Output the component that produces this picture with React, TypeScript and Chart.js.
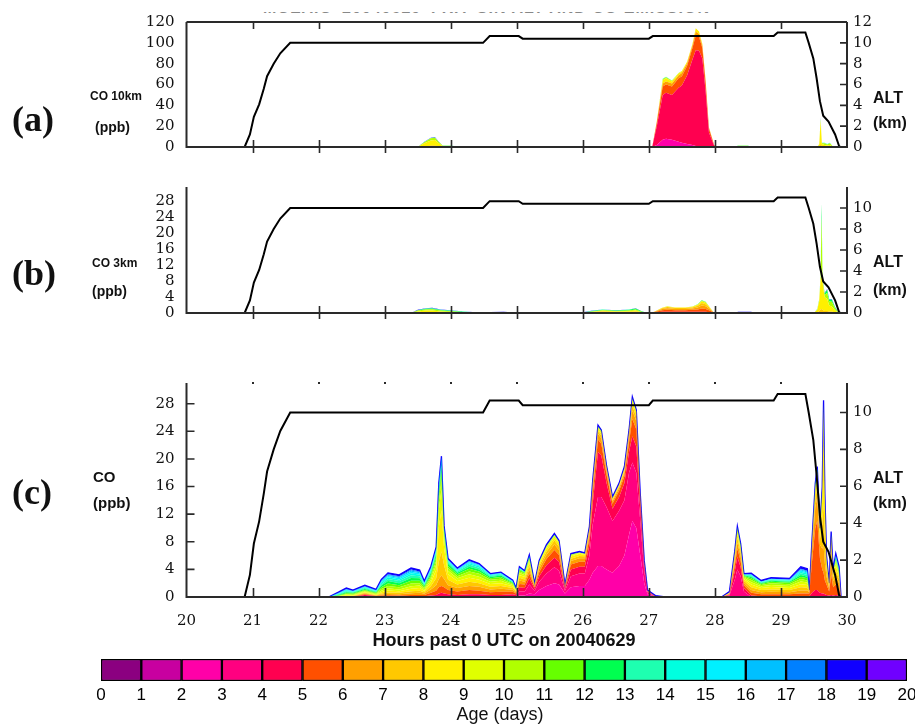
import React, { useEffect, useRef } from "react";
import { Chart, registerables } from "chart.js";

Chart.register(...registerables);

const W = 915;
const H = 724;

// ---------- Age colour scale (days) ----------
const AGE_EDGES = [0, 1, 2, 3, 4, 5, 6, 7, 8, 9, 10, 11, 12, 13, 14, 15, 16, 17, 18, 19, 20];
const AGE_COLORS = [
  "#8B0080", "#C800A0", "#FF00A8", "#FF0080", "#FF0050", "#FF5000", "#FFA000",
  "#FFC800", "#FFF000", "#E0FF00", "#B0FF00", "#66FF00", "#00FF50", "#1EFFB0",
  "#00FFE0", "#00F0FF", "#00C0FF", "#0080FF", "#1000FF", "#7000FF",
];

// ---------- Aircraft altitude (km) ----------
const ALT_T = [20.88, 20.96, 21.02, 21.1, 21.17, 21.22, 21.32, 21.42, 21.57, 24.49, 24.59, 25.03, 25.09, 27.0, 27.06, 28.89, 28.95, 29.37, 29.42, 29.49, 29.54, 29.59, 29.64, 29.72, 29.82, 29.88, 29.9];
const ALT_KM = [0, 1.2, 2.9, 4.1, 5.6, 6.8, 8.0, 9.0, 10.0, 10.0, 10.65, 10.65, 10.4, 10.4, 10.65, 10.65, 11.0, 11.0, 10.0, 8.5, 6.6, 4.4, 3.0, 2.45, 1.2, 0.1, 0];

// ---------- Panel (a): CO 10 km (ppb) by age bin ----------
const A_T = [23.5, 23.6, 23.7, 23.76, 23.82, 23.88, 24.0, 24.1, 24.2, 27.05,
  27.12, 27.21, 27.26, 27.35, 27.45, 27.5, 27.58, 27.66, 27.71, 27.76,
  27.81, 27.86, 27.91, 27.99, 28.05, 28.3, 28.35, 28.5, 28.55, 29.55,
  29.58, 29.6, 29.62, 29.66, 29.7, 29.74, 29.78, 29.82];
const A_B2 = [0, 0, 0, 0, 0, 0, 0, 0, 0, 0, 2, 7, 8, 7, 5, 4, 3, 2, 1, 0.5, 0, 0, 0, 0, 0, 0, 0, 0, 0, 0, 0, 0, 0, 0, 0, 0, 0, 0];
const A_B4 = [0, 0, 0, 0, 0, 0, 0, 0, 0, 0, 18, 43, 44, 43, 52, 55, 66, 82, 92, 92, 85, 53, 14, 1, 0, 0, 0.3, 0.2, 0, 0, 0, 0, 0, 0, 0, 0, 0, 0];
const A_B5 = [0, 0, 0.3, 0.3, 0.2, 0, 0, 0, 0, 0, 3, 8, 8, 8, 9, 9, 9, 11, 14, 13, 10, 8, 3.5, 0.5, 0, 0, 0, 0, 0, 0, 0, 0, 0, 0, 0, 0, 0, 0];
const A_B6 = [0, 0.5, 1, 1, 0.5, 0.2, 0.1, 0, 0, 0, 1, 3, 3, 3, 3, 3, 2.5, 2.5, 4, 3, 2.5, 2, 1, 0.3, 0, 0, 0, 0, 0, 0, 0.5, 2, 0.5, 0.5, 0.3, 0.5, 0.1, 0];
const A_B8 = [0, 3, 5, 5.5, 3, 0.6, 0.6, 0.2, 0, 0, 0.5, 3, 3, 2, 1.5, 1.5, 1.5, 1.5, 3, 2.5, 1.5, 1, 0.5, 0.2, 0, 0, 0.3, 0.3, 0, 0, 2, 23, 2.5, 1.5, 1.2, 1.5, 0.4, 0];
const A_B10 = [0, 1, 2, 2, 1, 0.4, 0.5, 0.1, 0, 0, 0.3, 1, 1, 0.5, 0.5, 0.5, 0, 0, 0, 0, 0, 0, 0, 0, 0, 0, 0.5, 0.6, 0, 0, 0.5, 2, 0.7, 1.5, 1, 1.5, 0.4, 0];
const A_B13 = [0, 0.3, 0.4, 0.4, 0.2, 0.2, 0.2, 0.1, 0, 0, 0, 0.5, 0.5, 0.3, 0, 0, 0, 0, 0, 0, 0, 0, 0, 0, 0, 0, 0.4, 0.4, 0, 0, 0, 0.5, 0.3, 0.5, 0.5, 0.5, 0.1, 0];
const A_B18 = [0, 0.2, 0.3, 0.3, 0.1, 0.1, 0.1, 0.1, 0, 0, 0, 0, 0, 0, 0, 0, 0, 0, 0, 0, 0, 0, 0, 0, 0, 0, 0, 0, 0, 0, 0, 0.5, 0, 0, 0, 0, 0, 0];

// ---------- Panel (b): CO 3 km (ppb) by age bin ----------
const B_T = [23.4, 23.5, 23.62, 23.72, 23.85, 24.0, 24.2, 24.4, 24.8, 25.0,
  25.3, 25.5, 25.9, 26.0, 26.15, 26.3, 26.5, 26.7, 26.8, 26.9,
  27.0, 27.08, 27.2, 27.28, 27.4, 27.55, 27.66, 27.74, 27.8, 27.86,
  27.92, 27.98, 28.05, 28.3, 28.35, 28.55, 28.6, 29.5, 29.55, 29.58,
  29.6, 29.615, 29.63, 29.66, 29.7, 29.73, 29.77, 29.82, 29.87, 29.9];
const B_B4 = [0, 0, 0, 0, 0, 0, 0, 0, 0, 0, 0, 0, 0, 0, 0.1, 0.15, 0, 0, 0, 0, 0, 0.1, 0.3, 0.3, 0.3, 0.3, 0.3, 0.3, 0.3, 0.3, 0.2, 0.05, 0, 0, 0, 0, 0, 0, 0, 0, 0, 0, 0, 0, 0, 0, 0, 0, 0, 0];
const B_B5 = [0, 0, 0, 0, 0, 0, 0, 0, 0, 0, 0, 0, 0, 0, 0.05, 0.1, 0.05, 0.05, 0.1, 0, 0, 0.1, 0.4, 0.5, 0.4, 0.4, 0.5, 0.6, 0.8, 0.7, 0.4, 0.05, 0, 0, 0, 0, 0, 0, 0, 0, 0, 0, 0, 0, 0, 0, 0, 0, 0, 0];
const B_B6 = [0, 0, 0.1, 0.1, 0, 0, 0, 0, 0, 0, 0, 0, 0, 0, 0, 0.05, 0.05, 0.1, 0.1, 0, 0, 0.05, 0.3, 0.4, 0.3, 0.3, 0.35, 0.5, 0.8, 0.7, 0.4, 0.05, 0, 0, 0, 0, 0, 0, 0, 0.1, 0.2, 0.2, 0.2, 0.1, 0.1, 0.1, 0.1, 0, 0, 0];
const B_B7 = [0, 0.1, 0.1, 0.1, 0.1, 0.05, 0, 0, 0, 0, 0, 0, 0, 0, 0.05, 0.1, 0.1, 0.1, 0.15, 0.05, 0, 0.05, 0.2, 0.3, 0.25, 0.25, 0.25, 0.4, 0.6, 0.5, 0.3, 0.05, 0, 0, 0, 0, 0, 0, 0.2, 0.4, 0.7, 0.8, 0.6, 0.4, 0.4, 0.3, 0.3, 0.1, 0, 0];
const B_B8 = [0, 0.3, 0.4, 0.45, 0.3, 0.2, 0.1, 0.05, 0.05, 0, 0, 0, 0, 0.05, 0.1, 0.15, 0.15, 0.2, 0.25, 0.1, 0, 0, 0.1, 0.15, 0.1, 0.1, 0.15, 0.25, 0.45, 0.4, 0.15, 0, 0, 0, 0.05, 0.05, 0, 0, 0.6, 2.5, 7.5, 8, 7, 3.5, 3, 1.5, 1.2, 0.5, 0.1, 0];
const B_B10 = [0, 0.2, 0.3, 0.3, 0.2, 0.2, 0.1, 0.05, 0.1, 0.05, 0.05, 0.1, 0.05, 0.05, 0.1, 0.15, 0.15, 0.2, 0.3, 0.1, 0, 0, 0, 0.05, 0.05, 0.05, 0.05, 0.1, 0.15, 0.15, 0.05, 0, 0, 0, 0.1, 0.1, 0, 0, 0.1, 0.3, 0.5, 15, 0.8, 0.6, 1.5, 1, 1.2, 0.5, 0.1, 0];
const B_B12 = [0, 0.1, 0.15, 0.15, 0.15, 0.1, 0.1, 0.05, 0.1, 0.05, 0.05, 0.05, 0, 0.05, 0.1, 0.1, 0.1, 0.15, 0.2, 0.1, 0, 0, 0, 0, 0, 0, 0, 0.05, 0.1, 0.05, 0, 0, 0, 0, 0.1, 0.1, 0, 0, 0.1, 0.2, 0.3, 3.5, 0.3, 0.3, 0.8, 0.4, 0.5, 0.3, 0.05, 0];
const B_B14 = [0, 0, 0.05, 0.1, 0.05, 0.05, 0.05, 0, 0, 0, 0.05, 0, 0, 0, 0.05, 0.05, 0.05, 0.05, 0.05, 0, 0, 0, 0, 0, 0, 0, 0, 0, 0, 0, 0, 0, 0, 0, 0, 0, 0, 0, 0, 0, 0.1, 0.3, 0, 0, 0.1, 0.1, 0.1, 0.05, 0, 0];
const B_B18 = [0, 0.1, 0.1, 0.1, 0.1, 0.1, 0.05, 0.05, 0.05, 0, 0.05, 0.05, 0.05, 0.05, 0.05, 0.05, 0.05, 0.05, 0.05, 0.05, 0, 0, 0, 0, 0, 0, 0, 0, 0, 0, 0, 0, 0, 0, 0.05, 0.05, 0, 0, 0, 0, 0.1, 0.2, 0.1, 0.1, 0.1, 0.1, 0.1, 0.05, 0.05, 0];

// ---------- Panel (c): CO (ppb) by age bin ----------
const C_T = [22.15, 22.3, 22.42, 22.52, 22.7, 22.87, 22.95, 23.05, 23.22, 23.4,
  23.53, 23.6, 23.7, 23.78, 23.82, 23.86, 23.9, 23.96, 24.1, 24.28,
  24.43, 24.6, 24.76, 24.94, 24.99, 25.04, 25.12, 25.19, 25.27, 25.34,
  25.45, 25.57, 25.64, 25.73, 25.82, 25.95, 26.03, 26.1, 26.15, 26.23,
  26.28, 26.36, 26.45, 26.55, 26.63, 26.7, 26.75, 26.81, 26.87, 26.93,
  26.98, 27.1, 27.25, 28.1, 28.22, 28.3, 28.34, 28.39, 28.44, 28.55,
  28.7, 28.85, 29.13, 29.3, 29.4, 29.43, 29.47, 29.52, 29.55, 29.59,
  29.625, 29.645, 29.665, 29.69, 29.73, 29.76, 29.79, 29.83, 29.88, 29.91];
const C_B2 = [0, 0, 0, 0, 0, 0, 0, 0, 0, 0,
  0, 0, 0, 0, 0, 0, 0, 0, 0, 0,
  0, 0, 0, 0, 0, 0.2, 0.2, 0.5, 0.4, 1,
  1.6, 2, 1.8, 0.5, 1.4, 1.6, 1.6, 2.5, 3.5, 4.5,
  4.5, 4, 3.5, 4.5, 6, 9, 11, 10, 6, 2,
  0.4, 0, 0, 0, 0, 0, 0, 0, 0, 0,
  0, 0, 0, 0, 0, 0, 0, 0, 0, 0,
  0, 0, 0, 0, 0, 0, 0, 0, 0, 0];
const C_B3 = [0, 0, 0, 0, 0, 0, 0, 0, 0, 0,
  0, 0, 0, 0, 0, 0, 0, 0, 0, 0,
  0, 0, 0, 0.1, 0.1, 0.6, 0.6, 1.3, 0.5, 1.2,
  1.8, 2.3, 2, 0.4, 1.6, 1.8, 1.8, 3.5, 7, 10,
  10, 9, 7.5, 8, 8, 9, 8.5, 8, 5, 1.8,
  0.3, 0, 0, 0, 0.2, 2.5, 4, 3, 0.8, 0,
  0, 0, 0, 0, 0, 0, 0, 0, 0, 0,
  0, 0, 0, 0, 0, 0, 0, 0, 0, 0];
const C_B4 = [0, 0, 0, 0, 0.3, 0.1, 0.1, 0.1, 0.1, 0.1,
  0.1, 0.1, 0.2, 0.3, 0.5, 0.6, 0.5, 0.4, 0.3, 0.4,
  0.4, 0.3, 0.3, 0.3, 0.2, 0.6, 0.5, 0.9, 0.3, 0.8,
  1.2, 1.4, 1.3, 0.3, 1, 1, 1, 1.5, 3, 6.5,
  6, 3.5, 1.8, 2, 2.5, 3, 3.8, 3.8, 1.8, 0.6,
  0.1, 0.05, 0, 0, 0.1, 1.2, 1.8, 1.3, 0.5, 0.2,
  0.1, 0.1, 0.1, 0.1, 0.1, 0.1, 0.6, 1, 1, 0.6,
  0.5, 0.5, 0.4, 0.3, 0.2, 0.3, 0.2, 0.3, 0.2, 0];
const C_B5 = [0, 0, 0.05, 0.05, 0.1, 0.05, 0.1, 0.15, 0.1, 0.2,
  0.2, 0.2, 0.4, 0.6, 0.9, 1, 0.9, 0.6, 0.5, 0.6,
  0.5, 0.4, 0.45, 0.35, 0.2, 0.5, 0.5, 0.7, 0.2, 0.6,
  0.9, 1.1, 1, 0.2, 0.7, 0.7, 0.7, 1, 1.4, 1.8,
  1.7, 1.2, 0.7, 0.9, 1, 1.4, 2.5, 2.5, 1, 0.3,
  0.05, 0.05, 0, 0, 0.1, 0.8, 1.2, 0.9, 0.4, 0.4,
  0.3, 0.3, 0.3, 0.4, 0.4, 0.4, 4.5, 9, 10, 5,
  3.5, 3, 2, 1.5, 0.6, 3, 1.2, 1.5, 1, 0];
const C_B6 = [0, 0, 0.05, 0.05, 0.1, 0.05, 0.15, 0.2, 0.2, 0.25,
  0.3, 0.2, 0.5, 0.8, 1.2, 1.5, 1.2, 0.7, 0.5, 0.6,
  0.6, 0.4, 0.45, 0.3, 0.15, 0.5, 0.4, 0.6, 0.15, 0.5,
  0.6, 0.8, 0.7, 0.1, 0.5, 0.5, 0.5, 0.6, 0.8, 0.8,
  0.8, 0.5, 0.35, 0.4, 0.5, 0.7, 1.2, 1.2, 0.5, 0.2,
  0.05, 0, 0, 0, 0.05, 0.6, 0.9, 0.7, 0.35, 0.4,
  0.3, 0.35, 0.3, 0.45, 0.45, 0.2, 1.5, 3, 3.5, 2,
  3, 4, 2.5, 1.2, 0.4, 2.5, 0.9, 1.2, 0.8, 0];
const C_B7 = [0, 0, 0.05, 0.05, 0.1, 0.05, 0.15, 0.2, 0.2, 0.3,
  0.3, 0.2, 0.5, 1, 2.5, 3.5, 2, 0.8, 0.5, 0.6,
  0.5, 0.4, 0.4, 0.25, 0.15, 0.4, 0.35, 0.5, 0.1, 0.4,
  0.5, 0.6, 0.5, 0.1, 0.35, 0.35, 0.3, 0.4, 0.4, 0.4,
  0.4, 0.3, 0.2, 0.2, 0.3, 0.4, 0.7, 0.6, 0.25, 0.1,
  0, 0, 0, 0, 0.05, 0.5, 0.7, 0.5, 0.3, 0.4,
  0.3, 0.35, 0.3, 0.45, 0.4, 0.1, 0.6, 1.2, 1.5, 0.8,
  3.5, 6, 3.5, 1, 0.3, 1.5, 0.6, 0.8, 0.6, 0];
const C_B8 = [0, 0.05, 0.1, 0.05, 0.1, 0.05, 0.2, 0.3, 0.25, 0.35,
  0.4, 0.2, 0.5, 1.2, 5, 6, 2.5, 0.8, 0.5, 0.6,
  0.5, 0.4, 0.4, 0.25, 0.1, 0.4, 0.35, 0.5, 0.1, 0.3,
  0.4, 0.4, 0.4, 0.05, 0.3, 0.3, 0.2, 0.3, 0.3, 0.3,
  0.3, 0.2, 0.15, 0.15, 0.2, 0.3, 0.6, 0.5, 0.2, 0.1,
  0, 0, 0, 0, 0.05, 0.4, 0.6, 0.4, 0.25, 0.4,
  0.3, 0.35, 0.3, 0.45, 0.4, 0.1, 0.4, 0.8, 1, 0.6,
  3.5, 11, 4.5, 0.8, 0.2, 1, 0.4, 0.7, 0.4, 0];
const C_B9 = [0, 0.05, 0.1, 0.1, 0.1, 0.1, 0.2, 0.3, 0.25, 0.35,
  0.35, 0.2, 0.4, 0.8, 2.5, 3, 1.2, 0.5, 0.4, 0.5,
  0.45, 0.3, 0.35, 0.2, 0.1, 0.3, 0.25, 0.3, 0.05, 0.15,
  0.2, 0.2, 0.2, 0.05, 0.15, 0.1, 0.1, 0.1, 0.15, 0.2,
  0.2, 0.1, 0.1, 0.1, 0.1, 0.1, 0.3, 0.2, 0.05, 0.05,
  0, 0, 0, 0, 0.05, 0.2, 0.4, 0.3, 0.2, 0.35,
  0.25, 0.3, 0.3, 0.4, 0.35, 0.05, 0.2, 0.5, 0.6, 0.3,
  1, 2.5, 1, 0.4, 0.1, 0.4, 0.2, 0.4, 0.3, 0];
const C_B10 = [0, 0.05, 0.1, 0.1, 0.1, 0.1, 0.25, 0.35, 0.3, 0.4,
  0.35, 0.2, 0.35, 0.6, 1.2, 1.5, 0.6, 0.4, 0.3, 0.4,
  0.4, 0.3, 0.3, 0.15, 0.05, 0.2, 0.2, 0.2, 0.05, 0.1,
  0.1, 0.1, 0.1, 0, 0.1, 0.05, 0.05, 0.05, 0.1, 0.1,
  0.1, 0.05, 0.05, 0.05, 0.1, 0.1, 0.1, 0.1, 0, 0,
  0, 0, 0, 0, 0, 0.1, 0.2, 0.2, 0.15, 0.3,
  0.2, 0.25, 0.25, 0.35, 0.3, 0.05, 0.1, 0.3, 0.4, 0.2,
  0.4, 0.7, 0.4, 0.2, 0.05, 0.2, 0.1, 0.3, 0.2, 0];
const C_B11 = [0, 0.05, 0.1, 0.1, 0.1, 0.1, 0.25, 0.35, 0.3, 0.4,
  0.35, 0.2, 0.3, 0.5, 0.8, 1, 0.4, 0.3, 0.3, 0.4,
  0.35, 0.2, 0.25, 0.1, 0.05, 0.2, 0.15, 0.15, 0.05, 0.05,
  0.05, 0.05, 0, 0, 0.05, 0.05, 0, 0.05, 0.05, 0.05,
  0.05, 0, 0, 0, 0, 0, 0.05, 0, 0, 0,
  0, 0, 0, 0, 0, 0.05, 0.1, 0.1, 0.1, 0.25,
  0.15, 0.2, 0.2, 0.3, 0.3, 0, 0.1, 0.2, 0.3, 0.1,
  0.2, 0.3, 0.2, 0.1, 0.05, 0.1, 0.1, 0.2, 0.2, 0];
const C_B12 = [0, 0.1, 0.15, 0.1, 0.15, 0.1, 0.25, 0.35, 0.3, 0.4,
  0.35, 0.15, 0.3, 0.4, 0.6, 0.7, 0.3, 0.3, 0.2, 0.3,
  0.3, 0.2, 0.2, 0.1, 0.05, 0.1, 0.1, 0.1, 0, 0.05,
  0.05, 0.05, 0, 0, 0, 0, 0, 0, 0, 0.05,
  0.05, 0, 0, 0, 0, 0, 0.05, 0, 0, 0,
  0, 0, 0, 0, 0, 0.05, 0.1, 0.1, 0.1, 0.2,
  0.1, 0.15, 0.15, 0.3, 0.25, 0, 0.05, 0.15, 0.2, 0.1,
  0.1, 0.2, 0.1, 0.1, 0, 0.1, 0, 0.2, 0.1, 0];
const C_B13 = [0, 0.1, 0.15, 0.1, 0.15, 0.1, 0.2, 0.3, 0.3, 0.35,
  0.3, 0.15, 0.25, 0.3, 0.4, 0.5, 0.2, 0.2, 0.2, 0.3,
  0.25, 0.15, 0.15, 0.05, 0.05, 0.1, 0.05, 0.1, 0, 0,
  0, 0, 0, 0, 0, 0, 0, 0, 0, 0,
  0, 0, 0, 0, 0, 0, 0, 0, 0, 0,
  0, 0, 0, 0, 0, 0, 0.05, 0.05, 0.05, 0.15,
  0.1, 0.1, 0.1, 0.25, 0.25, 0, 0.05, 0.1, 0.1, 0.05,
  0.05, 0.1, 0.1, 0.1, 0, 0.1, 0, 0.2, 0.1, 0];
const C_B14 = [0, 0.05, 0.1, 0.05, 0.1, 0.05, 0.2, 0.25, 0.25, 0.3,
  0.25, 0.1, 0.2, 0.2, 0.3, 0.4, 0.1, 0.15, 0.1, 0.2,
  0.2, 0.1, 0.1, 0.05, 0, 0.05, 0.05, 0.05, 0, 0,
  0, 0, 0, 0, 0, 0, 0, 0, 0, 0,
  0, 0, 0, 0, 0, 0, 0, 0, 0, 0,
  0, 0, 0, 0, 0, 0, 0, 0, 0.05, 0.1,
  0.05, 0.1, 0.1, 0.2, 0.2, 0, 0, 0.05, 0.05, 0,
  0, 0, 0, 0, 0, 0, 0, 0.1, 0.1, 0];
const C_B15 = [0, 0.05, 0.1, 0.05, 0.05, 0.05, 0.15, 0.2, 0.2, 0.25,
  0.2, 0.1, 0.15, 0.15, 0.2, 0.3, 0.1, 0.1, 0.1, 0.15,
  0.1, 0.05, 0.05, 0.05, 0, 0.05, 0, 0.05, 0, 0,
  0, 0, 0, 0, 0, 0, 0, 0, 0, 0,
  0, 0, 0, 0, 0, 0, 0, 0, 0, 0,
  0, 0, 0, 0, 0, 0, 0, 0, 0, 0.05,
  0.05, 0.05, 0.05, 0.2, 0.15, 0, 0, 0.05, 0.05, 0,
  0, 0, 0, 0, 0, 0, 0, 0.1, 0.1, 0];
const C_B16 = [0, 0.05, 0.05, 0.05, 0.05, 0.05, 0.1, 0.15, 0.15, 0.2,
  0.15, 0.1, 0.1, 0.1, 0.1, 0.2, 0.1, 0.1, 0.1, 0.1,
  0.1, 0.05, 0.05, 0.05, 0, 0.05, 0, 0, 0, 0,
  0, 0, 0, 0, 0, 0, 0, 0, 0, 0,
  0, 0, 0, 0, 0, 0, 0, 0, 0, 0,
  0, 0, 0, 0, 0, 0, 0, 0, 0, 0.05,
  0.05, 0.05, 0.05, 0.15, 0.15, 0, 0, 0, 0, 0,
  0, 0, 0, 0, 0, 0, 0, 0, 0, 0];
const C_B17 = [0, 0.05, 0.05, 0.05, 0.05, 0.05, 0.1, 0.1, 0.1, 0.15,
  0.1, 0.05, 0.1, 0.1, 0.1, 0.1, 0.05, 0.05, 0.05, 0.05,
  0.05, 0.05, 0.05, 0.05, 0, 0, 0, 0, 0, 0,
  0, 0, 0, 0, 0, 0, 0, 0, 0, 0,
  0, 0, 0, 0, 0, 0, 0, 0, 0, 0,
  0, 0, 0, 0, 0, 0, 0, 0, 0, 0.05,
  0, 0, 0.05, 0.1, 0.1, 0, 0, 0, 0, 0,
  0, 0, 0, 0, 0, 0, 0, 0, 0, 0];
const C_B18 = [0, 0.1, 0.15, 0.1, 0.15, 0.1, 0.15, 0.2, 0.2, 0.2,
  0.2, 0.15, 0.2, 0.2, 0.2, 0.1, 0.15, 0.2, 0.15, 0.2,
  0.15, 0.1, 0.1, 0.1, 0.1, 0.15, 0.1, 0.15, 0.1, 0.15,
  0.2, 0.2, 0.2, 0.1, 0.15, 0.15, 0.15, 0.2, 0.2, 0.2,
  0.1, 0.15, 0.15, 0.2, 0.2, 0.2, 0.2, 0.2, 0.2, 0.15,
  0.1, 0.1, 0, 0, 0.2, 0.2, 0.2, 0.2, 0.15, 0.15,
  0.15, 0.15, 0.15, 0.3, 0.3, 0, 0.1, 0.15, 0.2, 0.2,
  0.2, 0.2, 0.3, 0.3, 0.1, 0.3, 0.3, 0.3, 0.3, 0];

// ---------- layout ----------
const PLOT_LEFT = 186.5;
const PLOT_RIGHT = 847;
const YL_W = 60;
const YR_W = 50;
const X_H = 40;

const SERIF = "'DejaVu Serif', 'Liberation Serif', serif";
const SANS = "'Liberation Sans', Arial, sans-serif";
const INK = "#111111";
const FRAME = "#2a2a2a";

const framePlugin = {
  id: "frame",
  afterDraw(chart: any, _args: any, o: any) {
    if (!o || !o.on) return;
    const { ctx, chartArea: a } = chart;
    const xs = chart.scales.x;
    const ys = chart.scales.y;
    const y2 = chart.scales.y2;
    ctx.save();
    ctx.strokeStyle = FRAME;
    ctx.lineWidth = 2;
    ctx.beginPath();
    ctx.moveTo(a.left, a.top);
    ctx.lineTo(a.left, a.bottom);
    ctx.lineTo(a.right, a.bottom);
    ctx.lineTo(a.right, a.top);
    if (o.topLine) {
      ctx.moveTo(a.left, a.top);
      ctx.lineTo(a.right, a.top);
    }
    ctx.stroke();
    ctx.lineWidth = 1.6;
    ctx.beginPath();
    const xt = xs.ticks.map((t: any) => t.value).filter((v: number) => v > xs.min && v < xs.max);
    xt.forEach((v: number) => {
      const px = Math.round(xs.getPixelForValue(v)) + 0.5;
      if (o.bottomUp || o.bottomDown) {
        ctx.moveTo(px, a.bottom - o.bottomUp);
        ctx.lineTo(px, a.bottom + o.bottomDown);
      }
      if (o.topDown) {
        ctx.moveTo(px, a.top);
        ctx.lineTo(px, a.top + o.topDown);
      }
    });
    if (o.left) {
      ys.ticks.forEach((t: any) => {
        if (t.value <= ys.min) return;
        const py = ys.getPixelForValue(t.value);
        ctx.moveTo(a.left, py);
        ctx.lineTo(a.left + o.left, py);
      });
    }
    if (o.right) {
      y2.ticks.forEach((t: any) => {
        if (t.value <= y2.min || t.value >= y2.max) return;
        const py = y2.getPixelForValue(t.value);
        ctx.moveTo(a.right, py);
        ctx.lineTo(a.right - o.right, py);
      });
    }
    ctx.stroke();
    if (o.topDots) {
      ctx.fillStyle = FRAME;
      xt.forEach((v: number) => {
        const px = Math.round(xs.getPixelForValue(v));
        ctx.fillRect(px - 1, a.top - 1, 2, 2);
      });
    }
    ctx.restore();
  },
};
Chart.register(framePlugin);

type Panel = {
  times: number[];
  series: [number, number[]][];
  top: number;
  bottom: number;
  coMax: number;
  coStep: number;
  altMax: number;
  hideAlt: number[];
  showX: boolean;
  edgeBin: number;
  frame: any;
};

const PANEL_A: Panel = {
  times: A_T,
  series: [[2, A_B2], [4, A_B4], [5, A_B5], [6, A_B6], [8, A_B8], [10, A_B10], [13, A_B13], [18, A_B18]],
  top: 22, bottom: 187, coMax: 120, coStep: 20, altMax: 12, hideAlt: [], showX: false, edgeBin: -1,
  frame: { on: true, topLine: true, topDown: 7, bottomUp: 7, bottomDown: 6, left: 0, right: 7, topDots: false },
};
const PANEL_B: Panel = {
  times: B_T,
  series: [[4, B_B4], [5, B_B5], [6, B_B6], [7, B_B7], [8, B_B8], [10, B_B10], [12, B_B12], [14, B_B14], [18, B_B18]],
  top: 187, bottom: 353, coMax: 31.6, coStep: 4, altMax: 12, hideAlt: [12], showX: false, edgeBin: -1,
  frame: { on: true, topLine: false, topDown: 0, bottomUp: 7, bottomDown: 6, left: 0, right: 7, topDots: false },
};
const PANEL_C: Panel = {
  times: C_T,
  series: [[2, C_B2], [3, C_B3], [4, C_B4], [5, C_B5], [6, C_B6], [7, C_B7], [8, C_B8], [9, C_B9], [10, C_B10],
    [11, C_B11], [12, C_B12], [13, C_B13], [14, C_B14], [15, C_B15], [16, C_B16], [17, C_B17], [18, C_B18]],
  top: 383, bottom: 597, coMax: 31, coStep: 4, altMax: 11.6, hideAlt: [], showX: true, edgeBin: 18,
  frame: { on: true, topLine: false, topDown: 0, bottomUp: 9, bottomDown: 0, left: 8, right: 7, topDots: true },
};

function makePanel(p: Panel): any {
  const stack = p.series.map(([bin, vals], i) => ({
    type: "line",
    label: `CO age ${AGE_EDGES[bin]}-${AGE_EDGES[bin + 1]} d`,
    data: p.times.map((t, j) => ({ x: t, y: vals[j] })),
    yAxisID: "y",
    backgroundColor: AGE_COLORS[bin],
    borderColor: AGE_COLORS[bin],
    borderWidth: bin === p.edgeBin ? 1.3 : 0,
    pointRadius: 0,
    tension: 0,
    fill: i === 0 ? "origin" : "-1",
  }));
  const alt = {
    type: "line",
    label: "ALT",
    data: ALT_T.map((t, j) => ({ x: t, y: ALT_KM[j] })),
    yAxisID: "y2",
    borderColor: "#000",
    borderWidth: 2,
    pointRadius: 0,
    tension: 0,
    fill: false,
    order: -1,
  };
  const tickFont = { family: SERIF, size: 15 };
  return {
    type: "line",
    data: { datasets: [...stack, alt] },
    options: {
      animation: false,
      responsive: false,
      devicePixelRatio: 1,
      events: [],
      layout: {
        padding: {
          left: PLOT_LEFT - YL_W,
          right: W - PLOT_RIGHT - YR_W,
          top: p.top,
          bottom: H - p.bottom - (p.showX ? X_H : 0),
        },
      },
      plugins: { legend: { display: false }, tooltip: { enabled: false }, frame: p.frame },
      scales: {
        x: {
          type: "linear", min: 20, max: 30, display: p.showX,
          afterFit: (s: any) => { s.height = X_H; s.paddingLeft = 0; s.paddingRight = 0; },
          grid: { display: false, drawTicks: false }, border: { display: false },
          ticks: { stepSize: 1, padding: 15, font: tickFont, color: INK, autoSkip: false, maxRotation: 0 },
        },
        y: {
          type: "linear", position: "left", stacked: true, min: 0, max: p.coMax,
          afterFit: (s: any) => { s.width = YL_W; },
          grid: { display: false, drawTicks: false }, border: { display: false },
          ticks: { stepSize: p.coStep, includeBounds: false, padding: 12, font: tickFont, color: INK, autoSkip: false },
        },
        y2: {
          type: "linear", position: "right", min: 0, max: p.altMax,
          afterFit: (s: any) => { s.width = YR_W; },
          grid: { display: false, drawTicks: false }, border: { display: false },
          ticks: {
            stepSize: 2, includeBounds: false, padding: 6, font: tickFont, color: INK, autoSkip: false,
            callback: (v: any) => (p.hideAlt.includes(v) ? "" : String(v)),
          },
        },
      },
    },
  };
}

function makeColorbar(): any {
  return {
    type: "bar",
    data: {
      labels: ["Age"],
      datasets: AGE_COLORS.map((c, i) => ({
        label: `${AGE_EDGES[i]}-${AGE_EDGES[i + 1]}`,
        data: [[AGE_EDGES[i], AGE_EDGES[i + 1]]],
        backgroundColor: c,
        borderColor: "#000",
        borderWidth: 1.5,
        borderSkipped: false,
        grouped: false,
        barPercentage: 1,
        categoryPercentage: 1,
      })),
    },
    options: {
      indexAxis: "y",
      animation: false,
      responsive: false,
      devicePixelRatio: 1,
      events: [],
      layout: { padding: { left: 101, right: 8, top: 659, bottom: H - 681 - X_H } },
      plugins: { legend: { display: false }, tooltip: { enabled: false } },
      scales: {
        x: {
          type: "linear", min: 0, max: 20,
          afterFit: (s: any) => { s.height = X_H; s.paddingLeft = 0; s.paddingRight = 0; },
          grid: { display: false, drawTicks: false }, border: { display: false },
          ticks: { stepSize: 1, padding: 4, autoSkip: false, maxRotation: 0, color: "#000", font: { family: SANS, size: 17 } },
        },
        y: { display: false },
      },
    },
  };
}

function ChartCanvas({ make }: { make: () => any }) {
  const ref = useRef<HTMLCanvasElement | null>(null);
  useEffect(() => {
    if (!ref.current) return;
    const chart = new Chart(ref.current, make());
    return () => chart.destroy();
  }, []);
  return (
    <canvas
      ref={ref}
      width={W}
      height={H}
      style={{ position: "absolute", left: 0, top: 0, width: W, height: H }}
    />
  );
}

function Txt(props: { x: number; cy: number; size: number; text: string; family?: string; weight?: number; center?: boolean; color?: string }) {
  const { x, cy, size, text, family = SANS, weight = 700, center = false, color = INK } = props;
  return (
    <div
      style={{
        position: "absolute",
        left: center ? x - 300 : x,
        width: center ? 600 : undefined,
        textAlign: center ? "center" : "left",
        top: cy - size * 0.52,
        fontSize: size,
        lineHeight: `${size}px`,
        fontFamily: family,
        fontWeight: weight,
        whiteSpace: "nowrap",
        color,
        pointerEvents: "none",
      }}
    >
      {text}
    </div>
  );
}

export default function App() {
  return (
    <div style={{ position: "absolute", left: 0, top: 0, width: W, height: H, background: "#fff", overflow: "hidden" }}>
      <div style={{ position: "absolute", left: 263, top: 12, width: 482, height: 2, overflow: "hidden" }}>
        <div style={{ position: "absolute", left: 0, top: -12, fontFamily: SANS, fontWeight: 700, fontSize: 16, lineHeight: "16px", color: "#888", whiteSpace: "nowrap", letterSpacing: 1 }}>
          MOZAIC_20040629_FRA_SIN ALT AND CO EMISSION
        </div>
      </div>
      <ChartCanvas make={() => makePanel(PANEL_A)} />
      <ChartCanvas make={() => makePanel(PANEL_B)} />
      <ChartCanvas make={() => makePanel(PANEL_C)} />
      <ChartCanvas make={makeColorbar} />

      <Txt x={12} cy={120} size={36} text="(a)" family="'Liberation Serif', 'Times New Roman', serif" />
      <Txt x={12} cy={274} size={36} text="(b)" family="'Liberation Serif', 'Times New Roman', serif" />
      <Txt x={12} cy={493} size={36} text="(c)" family="'Liberation Serif', 'Times New Roman', serif" />

      <Txt x={90} cy={96} size={12} text="CO 10km" />
      <Txt x={95} cy={127} size={14} text="(ppb)" />
      <Txt x={92} cy={263} size={12} text="CO 3km" />
      <Txt x={92} cy={291} size={14} text="(ppb)" />
      <Txt x={93} cy={477} size={15} text="CO" />
      <Txt x={93} cy={503} size={15} text="(ppb)" />

      <Txt x={873} cy={98} size={16} text="ALT" />
      <Txt x={873} cy={123} size={16} text="(km)" />
      <Txt x={873} cy={262} size={16} text="ALT" />
      <Txt x={873} cy={290} size={16} text="(km)" />
      <Txt x={873} cy={478} size={16} text="ALT" />
      <Txt x={873} cy={503} size={16} text="(km)" />

      <Txt x={504} cy={640} size={18} text="Hours past 0 UTC on 20040629" center />
      <Txt x={500} cy={714} size={18} text="Age (days)" weight={400} center />
    </div>
  );
}
